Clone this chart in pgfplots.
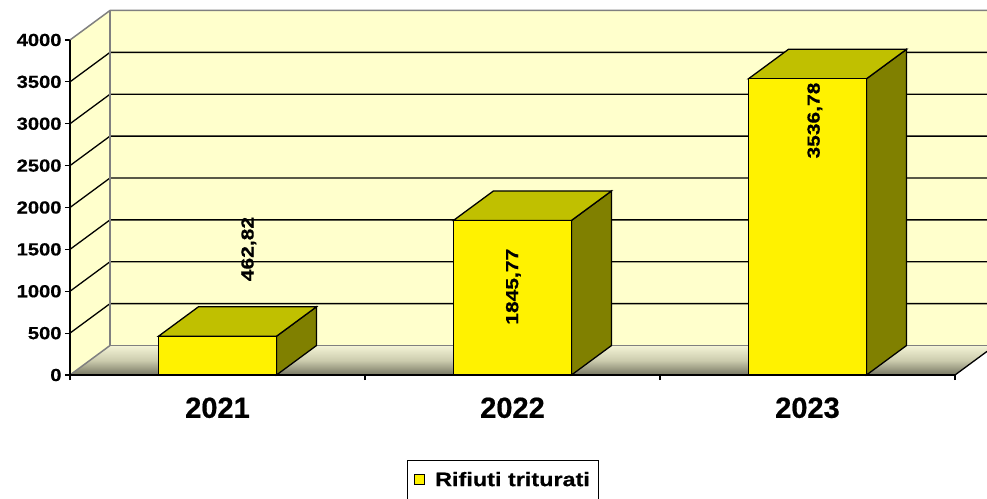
\documentclass[border=0pt]{standalone}
\usepackage{pgfplots}
\pgfplotsset{compat=1.18}
\usepackage{fontspec}
\setmainfont{Liberation Sans}
\newfontfamily\sfs{Liberation Sans}[FakeStretch=1.15, FakeBold=0.6]
\newfontfamily\sfl{Liberation Sans}[FakeStretch=1.2, FakeBold=0.6]
\newfontfamily\sfc{Liberation Sans}[FakeBold=0.6]
\definecolor{wall}{RGB}{255,255,204}
\definecolor{bartop}{RGB}{192,192,0}
\definecolor{barside}{RGB}{128,128,0}
\definecolor{edgegrey}{RGB}{128,128,128}
\definecolor{floorback}{RGB}{244,244,214}
\definecolor{floormid}{RGB}{204,204,174}
\definecolor{floorfront}{RGB}{118,118,98}
\begin{document}
\begin{tikzpicture}
\path[use as bounding box] (-70bp,-124bp) rectangle (917bp,375bp);
\begin{axis}[
  at={(0,0)}, anchor=south west,
  scale only axis, width=917bp, height=364.5bp,
  xmin=-0.5, xmax=2.6085, ymin=0, ymax=4352,
  clip=false,
  axis line style={draw=none},
  tick align=outside,
  xtick={0,1,2}, xticklabels={2021,2022,2023},
  minor xtick={-0.5,0.5,1.5,2.5},
  major x tick style={draw=none},
  minor x tick style={black, line width=1.2bp},
  ytick={0,500,...,4000},
  y tick style={black, line width=1.2bp},
  major tick length=5bp, minor tick length=5bp,
  xtick pos=bottom, ytick pos=left,
  /pgf/number format/assume math mode=true,
  /pgf/number format/1000 sep={},
  yticklabel style={font=\sfs\bfseries\fontsize{17.5bp}{19bp}\selectfont},
  xticklabel style={font=\sfc\bfseries\fontsize{29bp}{31bp}\selectfont, yshift=-14bp},
  legend style={at={(0.4722,-0.2332)}, anchor=north, draw=black, line width=1bp,
    font=\sfl\bfseries\fontsize{19.5bp}{21bp}\selectfont, inner xsep=7bp, inner ysep=9.5bp},
  legend image code/.code={\draw[fill=yellow, draw=black, line width=0.8bp] (0bp,-5bp) rectangle (10bp,5bp); \path (18bp,0bp);},
]
% walls and floor
\fill[wall] (axis cs:-0.3644,352) -- (axis cs:2.6085,352) -- (axis cs:2.6085,4352) -- (axis cs:-0.3644,4352) -- cycle;
\fill[wall] (axis cs:-0.5,0) -- (axis cs:-0.3644,352) -- (axis cs:-0.3644,4352) -- (axis cs:-0.5,4000) -- cycle;
\shade[top color=floorback, bottom color=floorfront, middle color=floormid] (axis cs:-0.5,0) -- (axis cs:2.5,0) -- (axis cs:2.6085,281.6) -- (axis cs:2.6085,352) -- (axis cs:-0.3644,352) -- cycle;
\draw[black, line width=1.3bp] (axis cs:-0.5,500) -- (axis cs:-0.3644,852) -- (axis cs:2.6085,852);
\draw[black, line width=1.3bp] (axis cs:-0.5,1000) -- (axis cs:-0.3644,1352) -- (axis cs:2.6085,1352);
\draw[black, line width=1.3bp] (axis cs:-0.5,1500) -- (axis cs:-0.3644,1852) -- (axis cs:2.6085,1852);
\draw[black, line width=1.3bp] (axis cs:-0.5,2000) -- (axis cs:-0.3644,2352) -- (axis cs:2.6085,2352);
\draw[black, line width=1.3bp] (axis cs:-0.5,2500) -- (axis cs:-0.3644,2852) -- (axis cs:2.6085,2852);
\draw[black, line width=1.3bp] (axis cs:-0.5,3000) -- (axis cs:-0.3644,3352) -- (axis cs:2.6085,3352);
\draw[black, line width=1.3bp] (axis cs:-0.5,3500) -- (axis cs:-0.3644,3852) -- (axis cs:2.6085,3852);
\draw[edgegrey, line width=1.5bp] (axis cs:-0.5,4000) -- (axis cs:-0.3644,4352) -- (axis cs:2.6085,4352);
\draw[edgegrey, line width=1.5bp] (axis cs:-0.3644,4352) -- (axis cs:-0.3644,352) -- (axis cs:2.6085,352);
\draw[edgegrey, line width=1.5bp] (axis cs:-0.5,0) -- (axis cs:-0.3644,352);
\draw[black, line width=1.3bp] (axis cs:2.5,0) -- (axis cs:2.6085,281.6);
% bar side faces
\addplot[forget plot, fill=barside, draw=black, line width=1.3bp] coordinates {(0.2,0) (0.3356,352) (0.3356,814.82) (0.2,462.82)} -- cycle;
\addplot[forget plot, fill=barside, draw=black, line width=1.3bp] coordinates {(1.2,0) (1.3356,352) (1.3356,2197.77) (1.2,1845.77)} -- cycle;
\addplot[forget plot, fill=barside, draw=black, line width=1.3bp] coordinates {(2.2,0) (2.3356,352) (2.3356,3888.78) (2.2,3536.78)} -- cycle;
% bar top faces
\addplot[forget plot, fill=bartop, draw=black, line width=1.3bp] coordinates {(-0.2,462.82) (0.2,462.82) (0.3356,814.82) (-0.0644,814.82)} -- cycle;
\addplot[forget plot, fill=bartop, draw=black, line width=1.3bp] coordinates {(0.8,1845.77) (1.2,1845.77) (1.3356,2197.77) (0.9356,2197.77)} -- cycle;
\addplot[forget plot, fill=bartop, draw=black, line width=1.3bp] coordinates {(1.8,3536.78) (2.2,3536.78) (2.3356,3888.78) (1.9356,3888.78)} -- cycle;
% bar front faces
\addplot[ybar, bar width=0.4, fill=yellow, draw=black, line width=1.3bp] table {
x y
0 462.82
1 1845.77
2 3536.78
};
\addlegendentry{Rifiuti triturati}
% value labels
\addplot[forget plot, draw=none, mark=none, nodes near coords, point meta=explicit symbolic,
  every node near coord/.append style={rotate=90, anchor=center, font=\sfl\bfseries\fontsize{17.5bp}{19bp}\selectfont}]
  table[meta=lab] {
x y lab
0.106 1504 462,82
1.003 1054 1845,77
2.025 3038 3536,78
};
% axis lines
\draw[black, line width=1.5bp] (axis cs:-0.5,0) -- (axis cs:-0.5,4000);
\draw[black, line width=1.5bp] (axis cs:-0.5,0) -- (axis cs:2.5,0);
\end{axis}
\end{tikzpicture}
\end{document}
